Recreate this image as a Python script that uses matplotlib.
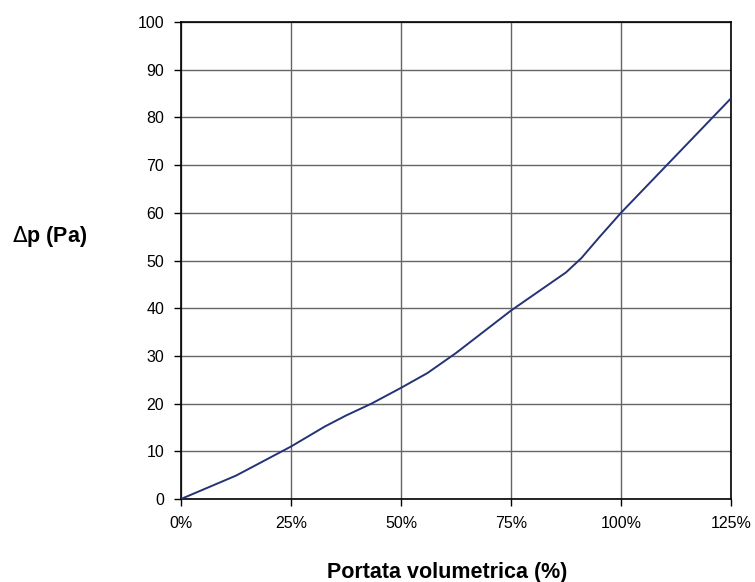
import numpy as np
import matplotlib.pyplot as plt

plt.rcParams['font.family'] = ['Liberation Sans', 'DejaVu Sans']

# Volumetric flow (%) and pressure drop (Pa)
portata = [0, 12.5, 25, 32.7, 37.5, 43.3, 50, 56, 62.5, 75, 87.5, 91, 95, 100, 112.5, 125]
delta_p = [0, 4.9, 11, 15.2, 17.5, 20, 23.3, 26.4, 30.6, 39.5, 47.5, 50.5, 54.8, 60, 72, 84]

x_ticks = [0, 25, 50, 75, 100, 125]
x_labels = ['0%', '25%', '50%', '75%', '100%', '125%']
y_ticks = list(range(0, 101, 10))

fig = plt.figure(figsize=(7.55, 5.82), dpi=100)
ax = fig.add_axes([0.2397, 0.1426, 0.7285, 0.8196])

ax.plot(portata, delta_p, color='#233376', linewidth=1.4, zorder=3)

ax.set_xlim(0, 125)
ax.set_ylim(0, 100)
ax.set_xticks(x_ticks)
ax.set_xticklabels(x_labels)
ax.set_yticks(y_ticks)
ax.grid(True, color='#656565', linewidth=1.0)
for s in ax.spines.values():
    s.set_color('black')
    s.set_linewidth(1.2)
ax.tick_params(direction='out', length=5, width=1, colors='black', labelsize=11.5)
ax.tick_params(axis='y', pad=7)
ax.tick_params(axis='x', pad=7)

# axis titles placed as in the original (not centred on the axes)
fig.text(0.592, 0.0069, 'Portata volumetrica (%)', fontsize=15.5, fontweight='bold',
         ha='center', va='baseline')
fig.text(0.0662, 0.5842, r'$\Delta$' + 'p (Pa)', fontsize=15.5, fontweight='bold',
         ha='center', va='baseline')

fig.savefig('out.png', dpi=100)
